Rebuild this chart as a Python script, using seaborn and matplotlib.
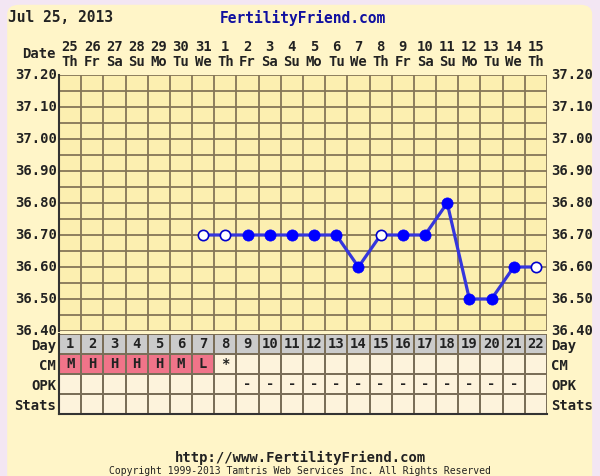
import numpy as np
import pandas as pd
import matplotlib
matplotlib.use("Agg")
import matplotlib.pyplot as plt
from matplotlib.colors import ListedColormap
from matplotlib.patches import FancyBboxPatch
import seaborn as sns

# chart data
cycle_days = list(range(1, 23))
dates = ["25", "26", "27", "28", "29", "30", "31", "1", "2", "3", "4",
         "5", "6", "7", "8", "9", "10", "11", "12", "13", "14", "15"]
weekdays = ["Th", "Fr", "Sa", "Su", "Mo", "Tu", "We", "Th", "Fr", "Sa", "Su",
            "Mo", "Tu", "We", "Th", "Fr", "Sa", "Su", "Mo", "Tu", "We", "Th"]
temp_days = [7, 8, 9, 10, 11, 12, 13, 14, 15, 16, 17, 18, 19, 20, 21, 22]
temps = [36.70, 36.70, 36.70, 36.70, 36.70, 36.70, 36.70, 36.60,
         36.70, 36.70, 36.70, 36.80, 36.50, 36.50, 36.60, 36.60]
open_marker = [True, True, False, False, False, False, False, False,
               True, False, False, False, False, False, False, True]
cm_codes = ["M", "H", "H", "H", "H", "M", "L", "*"] + [""] * 14
opk_codes = [""] * 8 + ["-"] * 13 + [""]
y_ticks = [36.40, 36.50, 36.60, 36.70, 36.80, 36.90, 37.00, 37.10, 37.20]
row_names = ["Day", "CM", "OPK", "Stats"]

W, H = 600, 476
bg = "#fff5c8"
plot_bg = "#fcefb0"
grid_col = "#857658"
font = "DejaVu Sans Mono"

fig = plt.figure(figsize=(W / 100, H / 100), dpi=100, facecolor="#f3e6f3")
frame = FancyBboxPatch((0.012, -0.05), 0.975, 1.04, boxstyle="round,pad=0,rounding_size=0.02",
                       transform=fig.transFigure, facecolor=bg, edgecolor="none", zorder=-5)
fig.patches.append(frame)

def fx(px):
    return px / W

def fy(py):
    return 1 - py / H

# temperature chart
left, right, top, bottom = 59, 547, 75, 331
ax = fig.add_axes([fx(left), fy(bottom), fx(right - left), (bottom - top) / H])
ax.set_facecolor(plot_bg)
df = pd.DataFrame({"day": temp_days, "temp": temps, "open": open_marker})
sns.lineplot(data=df, x="day", y="temp", ax=ax, color="#3535dd", linewidth=2.3, zorder=3)
sns.scatterplot(data=df[~df["open"]], x="day", y="temp", ax=ax, color="#0000ff",
                s=65, edgecolor="#0000ff", linewidth=0.5, zorder=4)
sns.scatterplot(data=df[df["open"]], x="day", y="temp", ax=ax, color="white",
                s=55, edgecolor="#0000cc", linewidth=1.2, zorder=4)
ax.set_xlim(0.5, 22.5)
ax.set_ylim(36.40, 37.20)
ax.set_xticks(np.arange(0.5, 23, 1))
ax.set_yticks(np.arange(36.40, 37.21, 0.05))
ax.grid(True, color=grid_col, linewidth=1.3)
ax.set_axisbelow(True)
ax.tick_params(length=0, labelbottom=False, labelleft=False)
for s in ax.spines.values():
    s.set_visible(False)
ax.spines["left"].set_visible(True)
ax.spines["left"].set_color("#333333")
ax.spines["left"].set_linewidth(1.5)
ax.set_xlabel("")
ax.set_ylabel("")
for v in y_ticks:
    ax.text(-0.004, v, f"{v:.2f}", transform=ax.get_yaxis_transform(), ha="right", va="center",
            family=font, fontweight="bold", fontsize=10, color="#222222")
    ax.text(1.008, v, f"{v:.2f}", transform=ax.get_yaxis_transform(), ha="left", va="center",
            family=font, fontweight="bold", fontsize=10, color="#222222")
for d, dt, wd in zip(cycle_days, dates, weekdays):
    ax.text(d, 1.11, dt, transform=ax.get_xaxis_transform(), ha="center", va="center",
            family=font, fontweight="bold", fontsize=10, color="#222222")
    ax.text(d, 1.05, wd, transform=ax.get_xaxis_transform(), ha="center", va="center",
            family=font, fontweight="bold", fontsize=10, color="#222222")

# table rows below chart
tleft, ttop, tbottom = 59, 334, 414
tax = fig.add_axes([fx(tleft), fy(tbottom), fx(right - tleft), (tbottom - ttop) / H])
codes = np.full((4, 22), 2)
codes[0, :] = 0
for i, c in enumerate(cm_codes):
    if c in ("M", "H", "L"):
        codes[1, i] = 1
annot = np.array([[str(d) for d in cycle_days], cm_codes, opk_codes, [""] * 22])
sns.heatmap(codes, ax=tax, cmap=ListedColormap(["#cbcbcb", "#f07489", "#fdf3dc"]), vmin=-0.5, vmax=2.5,
            cbar=False, annot=annot, fmt="", linewidths=1.4, linecolor="#7a6e58",
            annot_kws={"family": font, "fontweight": "bold", "fontsize": 10, "color": "#222222"})
tax.set_xticks([])
tax.set_yticks([])
for i, name in enumerate(row_names):
    tax.text(-0.006, i + 0.58, name, transform=tax.get_yaxis_transform(), ha="right", va="center",
             family=font, fontweight="bold", fontsize=10, color="#222222")
    tax.text(1.008, i + 0.58, name, transform=tax.get_yaxis_transform(), ha="left", va="center",
             family=font, fontweight="bold", fontsize=10, color="#222222")
for s in ["bottom", "left"]:
    tax.spines[s].set_visible(True)
    tax.spines[s].set_color("#333333")
    tax.spines[s].set_linewidth(1.5)

# header and footer text
fig.text(fx(8), fy(18), "Jul 25, 2013", family=font, fontweight="bold", fontsize=10.5,
         color="#222222", ha="left", va="center")
fig.text(fx(303), fy(18), "FertilityFriend.com", family=font, fontweight="bold", fontsize=10.5,
         color="#1010a0", ha="center", va="center")
fig.text(fx(56), fy(54), "Date", family=font, fontweight="bold", fontsize=10,
         color="#222222", ha="right", va="center")
fig.text(fx(300), fy(458), "http://www.FertilityFriend.com", family=font, fontweight="bold",
         fontsize=10, color="#222222", ha="center", va="center")
fig.text(fx(300), fy(471), "Copyright 1999-2013 Tamtris Web Services Inc. All Rights Reserved",
         family=font, fontsize=7, color="#222222", ha="center", va="center")

fig.savefig("out.png", dpi=100, facecolor=fig.get_facecolor())
